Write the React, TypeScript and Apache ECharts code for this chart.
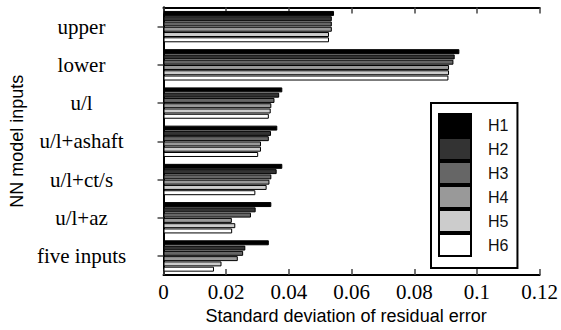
import React, { useEffect, useRef } from "react";
import * as echarts from "echarts";

// Model input sets, top to bottom
const categories = ["upper", "lower", "u/l", "u/l+ashaft", "u/l+ct/s", "u/l+az", "five inputs"];

// Standard deviation of the residual error, one array per horizon
const seriesNames = ["H1", "H2", "H3", "H4", "H5", "H6"];
const h1 = [0.0544, 0.0944, 0.0379, 0.0363, 0.0379, 0.0344, 0.0336];
const h2 = [0.0537, 0.0929, 0.0369, 0.0343, 0.0361, 0.0294, 0.0261];
const h3 = [0.0537, 0.0925, 0.0354, 0.0336, 0.0344, 0.0279, 0.0254];
const h4 = [0.0537, 0.0911, 0.0344, 0.0311, 0.0338, 0.0218, 0.0237];
const h5 = [0.0528, 0.0911, 0.0342, 0.0311, 0.0329, 0.0229, 0.0185];
const h6 = [0.0528, 0.0909, 0.0336, 0.0302, 0.0293, 0.0219, 0.0161];
const seriesValues = [h1, h2, h3, h4, h5, h6];

const fills = ["#000000", "#333333", "#666666", "#999999", "#cccccc", "#ffffff"];

const xMin = 0;
const xMax = 0.12;
const xStep = 0.02;

export default function App() {
  const ref = useRef<HTMLDivElement>(null);

  useEffect(() => {
    if (!ref.current) return;
    const chart = echarts.init(ref.current, undefined, { renderer: "svg" });

    const frameLine = { show: true, lineStyle: { color: "#000", width: 2 } };
    const innerTick = { show: true, inside: true, length: 6, lineStyle: { color: "#444", width: 1.5 } };

    chart.setOption({
      animation: false,
      backgroundColor: "#fff",
      grid: { left: 158.5, right: 18.5, top: 7.5, bottom: 52.3, containLabel: false },
      legend: {
        orient: "vertical",
        left: 431,
        top: 103,
        padding: [10, 9, 11, 7],
        itemWidth: 32,
        itemHeight: 22,
        itemGap: 0,
        borderColor: "#000",
        borderWidth: 2,
        backgroundColor: "#fff",
        selectedMode: false,
        icon: "rect",
        data: seriesNames,
        textStyle: {
          fontFamily: "Liberation Sans, Arial, sans-serif",
          fontSize: 16,
          color: "#111",
          padding: [0, 0, 0, 12],
        },
      },
      xAxis: [
        {
          type: "value",
          position: "bottom",
          min: xMin,
          max: xMax,
          interval: xStep,
          axisLine: frameLine,
          axisTick: innerTick,
          splitLine: { show: false },
          axisLabel: {
            margin: 6,
            color: "#000",
            fontFamily: "Liberation Serif, Times New Roman, serif",
            fontSize: 21,
            showMaxLabel: true,
            showMinLabel: true,
          },
          name: "Standard deviation of residual error",
          nameLocation: "middle",
          nameGap: 25,
          nameTextStyle: {
            fontFamily: "Liberation Sans, Arial, sans-serif",
            fontSize: 18,
            color: "#000",
            padding: [0, 11, 0, 0],
          },
        },
        {
          type: "value",
          position: "top",
          min: xMin,
          max: xMax,
          interval: xStep,
          axisLine: frameLine,
          axisTick: innerTick,
          axisLabel: { show: false },
          splitLine: { show: false },
        },
      ],
      yAxis: [
        {
          type: "category",
          position: "left",
          inverse: true,
          data: categories,
          axisLine: frameLine,
          axisTick: { show: false },
          axisLabel: {
            margin: 82,
            align: "center",
            color: "#000",
            fontFamily: "Liberation Serif, Times New Roman, serif",
            fontSize: 21,
          },
          name: "NN model inputs",
          nameLocation: "middle",
          nameRotate: 90,
          nameGap: 120,
          nameTextStyle: {
            fontFamily: "Liberation Sans, Arial, sans-serif",
            fontSize: 18,
            color: "#000",
          },
        },
        {
          type: "category",
          position: "right",
          inverse: true,
          data: categories,
          axisLine: frameLine,
          axisTick: { ...innerTick, alignWithLabel: true },
          axisLabel: { show: false },
        },
      ],
      series: seriesNames.map((name, i) => ({
        name,
        type: "bar",
        xAxisIndex: 0,
        yAxisIndex: 0,
        data: seriesValues[i],
        barGap: "6%",
        barCategoryGap: "18%",
        itemStyle: { color: fills[i], borderColor: "#000", borderWidth: 1 },
        emphasis: { disabled: true },
      })),
    });

    return () => chart.dispose();
  }, []);

  return (
    <div
      ref={ref}
      style={{ position: "absolute", left: 0, top: 0, width: 561, height: 330 }}
    />
  );
}
